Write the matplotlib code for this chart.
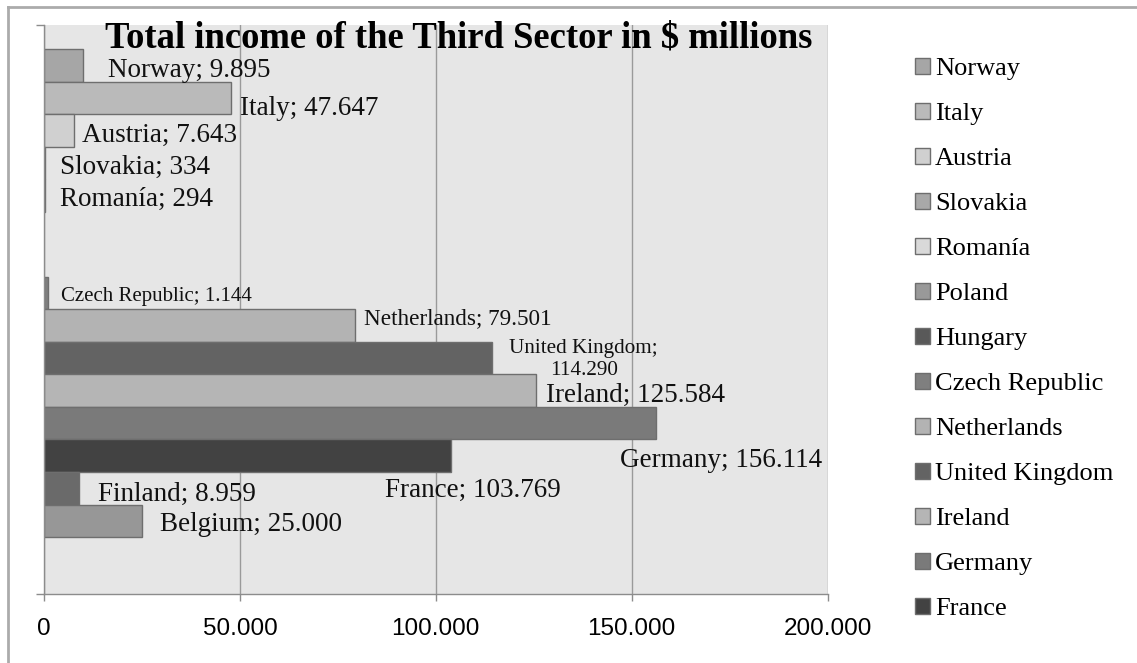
import numpy as np
import matplotlib
matplotlib.use("Agg")
import matplotlib.pyplot as plt

# data (values in $ thousands, shown with "." as thousands separator)
countries = ["Norway", "Italy", "Austria", "Slovakia", "Romanía", "Poland", "Hungary",
             "Czech Republic", "Netherlands", "United Kingdom", "Ireland", "Germany",
             "France", "Finland", "Belgium"]
income = [9895, 47647, 7643, 334, 294, np.nan, np.nan,
          1144, 79501, 114290, 125584, 156114,
          103769, 8959, 25000]
bar_colors = ["#a6a6a6", "#bababa", "#d0d0d0", "#a8a8a8", "#d9d9d9", "#999999", "#595959",
              "#7f7f7f", "#b3b3b3", "#636363", "#b5b5b5", "#7a7a7a",
              "#424242", "#6a6a6a", "#979797"]
x_ticks = [0, 50000, 100000, 150000, 200000]
title = "Total income of the Third Sector in \\$ millions"
n_legend = 13  # legend is cut off after France

# label placement (pixel offsets from the bar end / bar centre), font size
label_dx = [25, 9, 8, 15, 15, 0, 0, 13, 9, 92, 10, -36, -66, 19, 18]
label_dy = [-5, -11, -5, -5, -4, 0, 0, -3, 7, -1, -5, -37, -35, -6, -4]
label_fs = [19.5, 19.5, 19.5, 19.5, 19.5, 0, 0, 15, 16.7, 15.2, 19.5, 19.5, 19.5, 19.5, 19.5]


def fmt(v):
    return f"{int(v):,}".replace(",", ".")


W, H = 1137, 663
fig = plt.figure(figsize=(W / 100, H / 100), dpi=100)
fig.patch.set_facecolor("white")

# outer chart border (left + top visible)
fig.add_artist(plt.Line2D([8 / W, 8 / W], [0, 1 - 7 / H], color="#ababab", lw=2))
fig.add_artist(plt.Line2D([8 / W, 1], [1 - 7 / H, 1 - 7 / H], color="#ababab", lw=2))

ax = fig.add_axes([44 / W, 1 - 594 / H, (827.5 - 44) / W, (594 - 25) / H])
ax.set_facecolor("#e6e6e6")

pos = np.arange(len(countries))
bars = ax.barh(pos, income, height=1.0, color=bar_colors, edgecolor="#6e6e6e", linewidth=1)

ax.set_xlim(0, 200000)
ax.set_ylim(16.25, -1.238)

ax.set_xticks(x_ticks)
ax.set_xticklabels([fmt(t) for t in x_ticks], fontfamily="Liberation Sans", fontsize=17.5)
ax.tick_params(axis="x", direction="out", length=5, width=1, color="#8c8c8c", pad=12)
ax.set_yticks([16.25, -1.238])
ax.set_yticklabels([])
ax.tick_params(axis="y", direction="out", length=6, width=1, color="#8c8c8c")

ax.grid(axis="x", color="#9a9a9a", lw=1)
ax.set_axisbelow(True)
for s in ["top", "right"]:
    ax.spines[s].set_visible(False)
for s in ["left", "bottom"]:
    ax.spines[s].set_color("#8c8c8c")
    ax.spines[s].set_linewidth(1)

# data labels
for i, (c, v) in enumerate(zip(countries, income)):
    if np.isnan(v):
        continue
    txt = f"{c}; {fmt(v)}"
    ha = "left"
    if c == "United Kingdom":
        txt = f"{c};\n{fmt(v)}"
        ha = "center"
    ax.annotate(txt, (v, i), xytext=(label_dx[i], label_dy[i]), textcoords="offset pixels",
                ha=ha, va="center", fontsize=label_fs[i], fontfamily="Liberation Serif",
                color="#111111", annotation_clip=False)

fig.text(459 / W, 1 - 47 / H, title, ha="center", va="baseline", fontsize=26.4,
         fontweight="bold", fontfamily="Liberation Serif", color="#000000")

leg = fig.legend(bars[:n_legend], countries[:n_legend], loc="upper left",
                 bbox_to_anchor=(915 / W, 1 - 58 / H), frameon=False,
                 prop={"family": "Liberation Serif", "size": 19},
                 handlelength=0.55, handleheight=0.55, handletextpad=0.2,
                 labelspacing=0.86, borderpad=0, borderaxespad=0)

fig.savefig("out.png", dpi=100)
